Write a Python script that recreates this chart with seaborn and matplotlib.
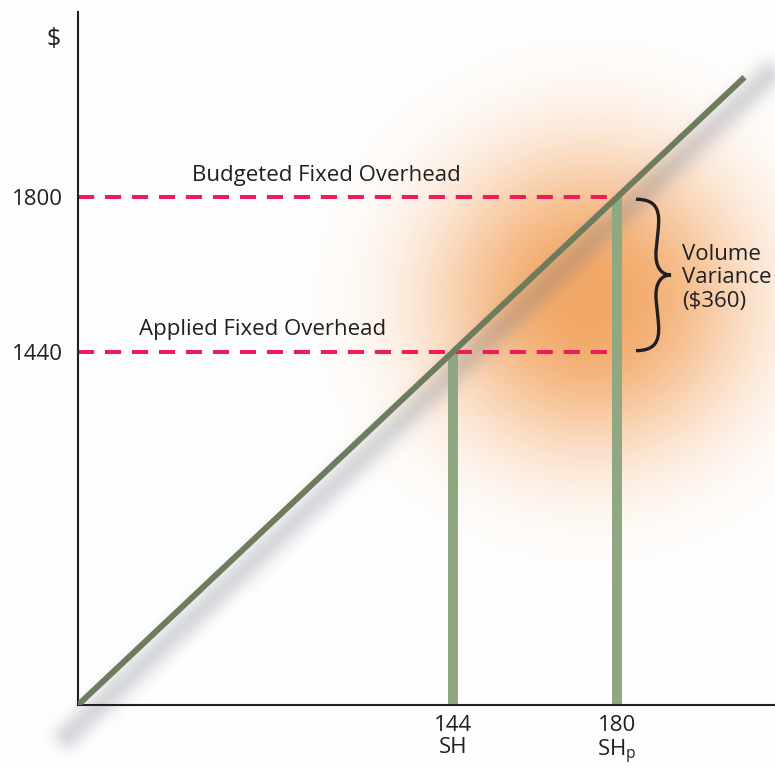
import numpy as np
import matplotlib
matplotlib.use("Agg")
import matplotlib.pyplot as plt
import seaborn as sns
from matplotlib.path import Path
from matplotlib.patches import PathPatch
from matplotlib.transforms import IdentityTransform

sns.set_theme(style="white")
plt.rcParams['font.family'] = ['Open Sans', 'DejaVu Sans']

# ---- data -------------------------------------------------------------
hours = [144, 180]                        # standard hours allowed, practical capacity
hour_labels = ["144\nSH", "180\nSH$_\\mathregular{p}$"]
overhead = [1440, 1800]                   # applied, budgeted fixed overhead
overhead_labels = ["1440", "1800"]
line_x = [61.6, 208]                      # applied overhead line (rate 10 $/h)
line_y = [616, 2080]
variance = overhead[1] - overhead[0]

# ---- colours ----------------------------------------------------------
LINE = "#6e7c5e"
BAR = "#8fa882"
DASH = "#ee1c5a"
INK = "#231f20"
FS = 16

W, H = 775, 769
fig = plt.figure(figsize=(W / 100, H / 100), dpi=100)
bg = fig.add_axes([0, 0, 1, 1], zorder=0)
bg.set_axis_off()
bg.set_xlim(0, W)
bg.set_ylim(0, H)

ax = fig.add_axes([78 / W, (H - 705) / H, (W - 78) / W, (705 - 12) / H], zorder=1)
ax.patch.set_alpha(0)
ax.set_xlim(61.6, 214.7)
ax.set_ylim(616, 2232)
y_floor = ax.get_ylim()[0]
x_floor = ax.get_xlim()[0]

# ---- soft background: orange glow + drop shadow of the rate line ------
X, Y = np.meshgrid(np.arange(W) + 0.5, np.arange(H) + 0.5)
gcx, gcy = ax.transData.transform((174, 1560))
r = np.hypot((X - gcx) / 215.0, (Y - gcy) / 205.0)
a_glow = 0.82 * np.exp(-(r ** 2.4) * 2.1)

A = ax.transData.transform((line_x[0], line_y[0]))
B = ax.transData.transform((line_x[1], line_y[1]))
d = (B - A) / np.linalg.norm(B - A)
perp = np.array([d[1], -d[0]])
A2, B2 = A + perp * 15, B + perp * 15
L = np.linalg.norm(B2 - A2)
t = np.clip(((X - A2[0]) * d[0] + (Y - A2[1]) * d[1]) / L, -0.03, 1.02)
px = A2[0] + t * L * d[0]
py = A2[1] + t * L * d[1]
dist = np.hypot(X - px, Y - py)
a_sh = 0.26 * np.exp(-dist ** 2 / (2 * 10.0 ** 2))

img = np.ones((H, W, 3))
orange = np.array([240, 148, 68]) / 255
shade = np.array([105, 110, 125]) / 255
img = img * (1 - a_glow[..., None]) + orange * a_glow[..., None]
img = img * (1 - a_sh[..., None]) + shade * a_sh[..., None]
bg.imshow(img, extent=(0, W, 0, H), origin="lower", interpolation="bilinear", aspect="auto")

# ---- marks ------------------------------------------------------------
ax.vlines(hours, y_floor, overhead, color=BAR, lw=7.2, zorder=2)
ax.hlines(overhead, x_floor, hours[1], color=DASH, lw=2.9,
          linestyles=[(0, (4.0, 2.7))], zorder=2)
sns.lineplot(x=line_x, y=line_y, ax=ax, color=LINE, lw=4.3, zorder=3)
for ln in ax.lines:
    ln.set_solid_capstyle("butt")

# ---- axes -------------------------------------------------------------
for s in ["top", "right"]:
    ax.spines[s].set_visible(False)
for s in ["left", "bottom"]:
    ax.spines[s].set_color(INK)
    ax.spines[s].set_linewidth(1.5)
ax.set_xticks(hours, hour_labels)
ax.set_yticks(overhead, overhead_labels)
ax.tick_params(axis="both", length=0, labelsize=FS, colors=INK)
ax.tick_params(axis="y", pad=11)
ax.tick_params(axis="x", pad=7)
for lbl in ax.get_xticklabels():
    lbl.set_linespacing(1.1)

ax.text(56.3, 2167, "$", fontsize=18, color=INK, ha="center", va="center", clip_on=False)
ax.text(86.6, 1838, "Budgeted Fixed Overhead", fontsize=FS, color=INK, va="baseline")
ax.text(74.9, 1479, "Applied Fixed Overhead", fontsize=FS, color=INK, va="baseline")

# ---- curly brace spanning the volume variance -------------------------
top = ax.transData.transform((hours[1], overhead[1]))
bot = ax.transData.transform((hours[1], overhead[0]))
xl, xm, xt = top[0] + 19, top[0] + 40, top[0] + 54
yt, yb = top[1] - 2, bot[1] + 1
ym = (yt + yb) / 2
verts = [
    (xl, yt), (xm + 2, yt), (xm + 3, yt - 14), (xm + 1, yt - 32),
    (xm - 1, ym + 24),
    (xm - 2, ym + 8), (xm + 4, ym), (xt, ym),
    (xm + 4, ym), (xm - 2, ym - 8), (xm - 1, ym - 24),
    (xm + 1, yb + 32),
    (xm + 3, yb + 14), (xm + 2, yb), (xl, yb),
]
codes = [Path.MOVETO, Path.CURVE4, Path.CURVE4, Path.CURVE4,
         Path.LINETO,
         Path.CURVE4, Path.CURVE4, Path.CURVE4,
         Path.CURVE4, Path.CURVE4, Path.CURVE4,
         Path.LINETO,
         Path.CURVE4, Path.CURVE4, Path.CURVE4]
brace = PathPatch(Path(verts, codes), facecolor="none", edgecolor=INK, lw=2.4,
                  transform=IdentityTransform(), clip_on=False, zorder=4)
ax.add_patch(brace)
fig.text((xt + 11) / W, (ym - 3) / H, f"Volume\nVariance\n(${variance})",
         fontsize=FS, color=INK, ha="left", va="center", linespacing=1.15)

fig.savefig("out.png", dpi=100)
